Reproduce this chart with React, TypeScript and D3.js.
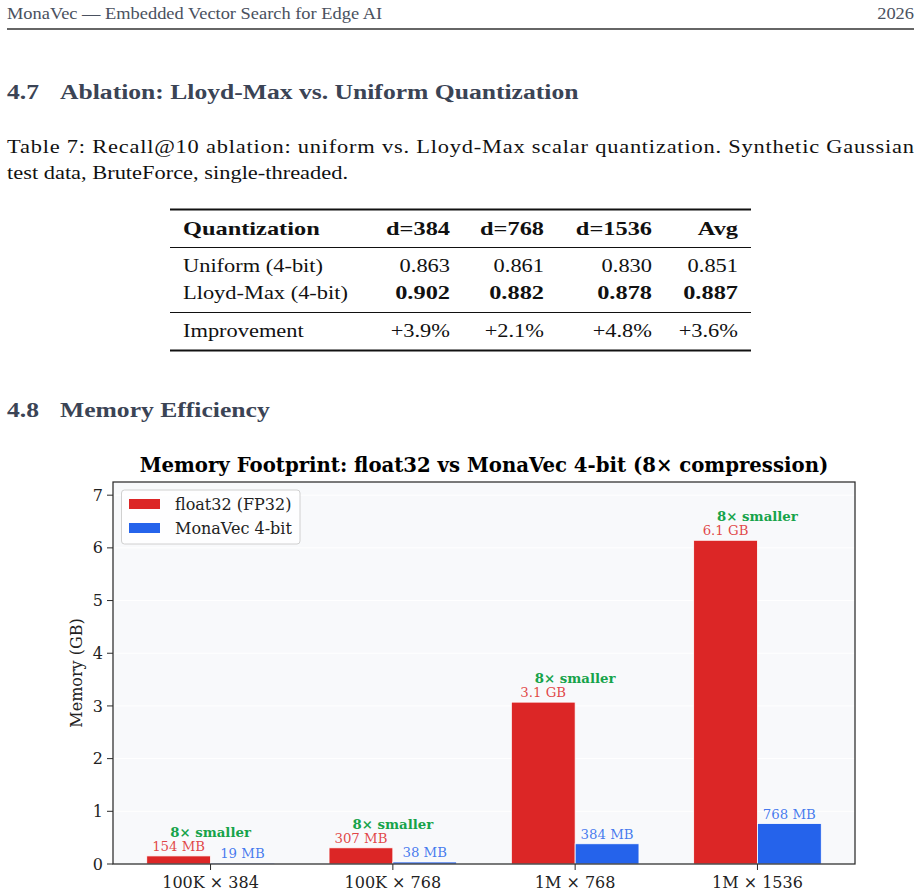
import React from "react";
import * as d3 from "d3";

// Table 7 data
const tableColumns = ["Quantization", "d=384", "d=768", "d=1536", "Avg"];
const uniformRecall = [0.863, 0.861, 0.83, 0.851];
const lloydMaxRecall = [0.902, 0.882, 0.878, 0.887];
const improvement = ["+3.9%", "+2.1%", "+4.8%", "+3.6%"];

// Memory chart data (GB)
const categories = ["100K × 384", "100K × 768", "1M × 768", "1M × 1536"];
const float32GB = [0.1536, 0.3072, 3.072, 6.144];
const monavecGB = [0.0192, 0.0384, 0.384, 0.768];
const yTicks = [0, 1, 2, 3, 4, 5, 6, 7];

const RED = "#dc2626";
const BLUE = "#2563eb";
const GREEN = "#16a34a";
const TEX = "'Liberation Serif', 'Times New Roman', serif";
const MPL = "'DejaVu Serif', serif";
const HEAD = "#3b4455";

// Liberation Serif is narrower than the LaTeX roman, so widen it a bit
const WIDE = 1.15;
const WIDE_BOLD = 1.25;

function fmtSize(gb: number) {
    return gb < 1 ? Math.round(gb * 1000) + " MB" : gb.toFixed(1) + " GB";
}

function Tex(props: any) {
    const { x, y, bold, anchor, size, fill, sx, children, fitWidth } = props;
    const s = sx || (bold ? WIDE_BOLD : WIDE);
    return (
        <text
            transform={`translate(${x},${y}) scale(${s},1)`}
            fontFamily={TEX}
            fontSize={size || 19.5}
            fontWeight={bold ? "bold" : "normal"}
            textAnchor={anchor || "start"}
            fill={fill || "#111"}
            textLength={fitWidth ? fitWidth / s : undefined}
            lengthAdjust={fitWidth ? "spacing" : undefined}
        >
            {children}
        </text>
    );
}

function App() {
    const W = 921, H = 896;

    // axes box
    const left = 113, right = 855, top = 482, bottom = 864;
    const barW = 0.35;

    const x = d3.scaleLinear().domain([-0.535, 3.535]).range([left, right]);
    const y = d3.scaleLinear().domain([0, 7.25]).range([bottom, top]);

    const colRight = [450, 544, 652, 738];

    return (
        <div style={{ position: "absolute", left: 0, top: 0 }}>
            <svg width={W} height={H} style={{ display: "block", background: "#fff" }}>
                {/* running header */}
                <Tex x={7} y={19} size={16} fill="#4a5160">
                    MonaVec — Embedded Vector Search for Edge AI
                </Tex>
                <Tex x={914} y={19} size={16} fill="#4a5160" anchor="end">2026</Tex>
                <line x1={7} x2={914} y1={29} y2={29} stroke="#333" strokeWidth={1.5} />

                {/* section 4.7 */}
                <Tex x={7} y={99} size={21} bold sx={1.22} fill={HEAD}>4.7</Tex>
                <Tex x={60} y={99} size={21} bold sx={1.22} fill={HEAD}>
                    Ablation: Lloyd-Max vs. Uniform Quantization
                </Tex>

                <Tex x={7} y={153} fitWidth={907}>
                    Table 7: Recall@10 ablation: uniform vs. Lloyd-Max scalar quantization. Synthetic Gaussian
                </Tex>
                <Tex x={7} y={179}>test data, BruteForce, single-threaded.</Tex>

                {/* table */}
                <line x1={170} x2={751} y1={209.5} y2={209.5} stroke="#111" strokeWidth={2} />
                <Tex x={183} y={235} bold>{tableColumns[0]}</Tex>
                {tableColumns.slice(1).map((c, i) => (
                    <Tex key={c} x={colRight[i]} y={235} bold anchor="end">{c}</Tex>
                ))}
                <line x1={170} x2={751} y1={247.5} y2={247.5} stroke="#111" strokeWidth={1.2} />

                <Tex x={183} y={272}>Uniform (4-bit)</Tex>
                {uniformRecall.map((v, i) => (
                    <Tex key={"u" + i} x={colRight[i]} y={272} anchor="end">{v.toFixed(3)}</Tex>
                ))}
                <Tex x={183} y={298.5}>Lloyd-Max (4-bit)</Tex>
                {lloydMaxRecall.map((v, i) => (
                    <Tex key={"l" + i} x={colRight[i]} y={298.5} anchor="end" bold>{v.toFixed(3)}</Tex>
                ))}
                <line x1={170} x2={751} y1={312.5} y2={312.5} stroke="#111" strokeWidth={1.2} />

                <Tex x={183} y={337}>Improvement</Tex>
                {improvement.map((v, i) => (
                    <Tex key={"i" + i} x={colRight[i]} y={337} anchor="end">{v}</Tex>
                ))}
                <line x1={170} x2={751} y1={350.5} y2={350.5} stroke="#111" strokeWidth={2} />

                {/* section 4.8 */}
                <Tex x={7} y={417} size={21} bold sx={1.22} fill={HEAD}>4.8</Tex>
                <Tex x={60} y={417} size={21} bold sx={1.22} fill={HEAD}>Memory Efficiency</Tex>

                {/* chart */}
                <text x={(left + right) / 2} y={472} textAnchor="middle" fontFamily={MPL}
                    fontWeight="bold" fontSize={19.7}>
                    Memory Footprint: float32 vs MonaVec 4-bit (8× compression)
                </text>

                <rect x={left} y={top} width={right - left} height={bottom - top} fill="#f8f9fb" />

                {/* grid */}
                {yTicks.slice(1).map((t) => (
                    <line key={"g" + t} x1={left} x2={right} y1={y(t)} y2={y(t)}
                        stroke="#ffffff" strokeWidth={1} />
                ))}

                {/* bars */}
                {float32GB.map((v, i) => (
                    <rect key={"r" + i} x={x(i - barW)} y={y(v)} width={x(barW) - x(0)}
                        height={y(0) - y(v)} fill={RED} stroke="#fff" strokeWidth={0.8} />
                ))}
                {monavecGB.map((v, i) => (
                    <rect key={"b" + i} x={x(i)} y={y(v)} width={x(barW) - x(0)}
                        height={y(0) - y(v)} fill={BLUE} stroke="#fff" strokeWidth={0.8} />
                ))}

                {/* value labels */}
                <g fontFamily={MPL} fontSize={13.3} textAnchor="middle">
                    {float32GB.map((v, i) => (
                        <text key={"rl" + i} x={x(i - barW / 2)} y={y(v) - 5} fill={RED} fillOpacity={0.85}>
                            {fmtSize(v)}
                        </text>
                    ))}
                    {monavecGB.map((v, i) => (
                        <text key={"bl" + i} x={x(i + barW / 2)} y={y(v) - 5} fill={BLUE} fillOpacity={0.85}>
                            {fmtSize(v)}
                        </text>
                    ))}
                    {float32GB.map((v, i) => (
                        <text key={"gl" + i} x={x(i)} y={y(v) - 19} fill={GREEN} fontWeight="bold">
                            {Math.round(v / monavecGB[i])}× smaller
                        </text>
                    ))}
                </g>

                {/* spines */}
                <rect x={left} y={top} width={right - left} height={bottom - top} fill="none"
                    stroke="#2b2b2b" strokeWidth={1.25} />

                {/* y axis */}
                <g fontFamily={MPL} fontSize={16} fill="#222">
                    {yTicks.map((t) => (
                        <g key={"yt" + t}>
                            <line x1={left - 6} x2={left} y1={y(t)} y2={y(t)} stroke="#2b2b2b" strokeWidth={1} />
                            <text x={left - 10} y={y(t)} dy="0.35em" textAnchor="end">{t}</text>
                        </g>
                    ))}
                    <text transform={`translate(82,${(top + bottom) / 2}) rotate(-90)`} textAnchor="middle">
                        Memory (GB)
                    </text>
                </g>

                {/* x axis */}
                <g fontFamily={MPL} fontSize={16} fill="#222">
                    {categories.map((c, i) => (
                        <g key={c}>
                            <line x1={x(i)} x2={x(i)} y1={bottom} y2={bottom + 6} stroke="#2b2b2b" strokeWidth={1} />
                            <text x={x(i)} y={888} textAnchor="middle">{c}</text>
                        </g>
                    ))}
                </g>

                {/* legend */}
                <rect x={121.5} y={490} width={178.5} height={54} rx={3} fill="#fff" fillOpacity={0.85}
                    stroke="#d0d0d0" strokeWidth={1} />
                <rect x={129} y={499} width={31} height={10} fill={RED} />
                <rect x={129} y={523} width={31} height={10} fill={BLUE} />
                <g fontFamily={MPL} fontSize={16} fill="#222">
                    <text x={175} y={509.5}>float32 (FP32)</text>
                    <text x={175} y={533.5}>MonaVec 4-bit</text>
                </g>
            </svg>
        </div>
    );
}

export default App;
